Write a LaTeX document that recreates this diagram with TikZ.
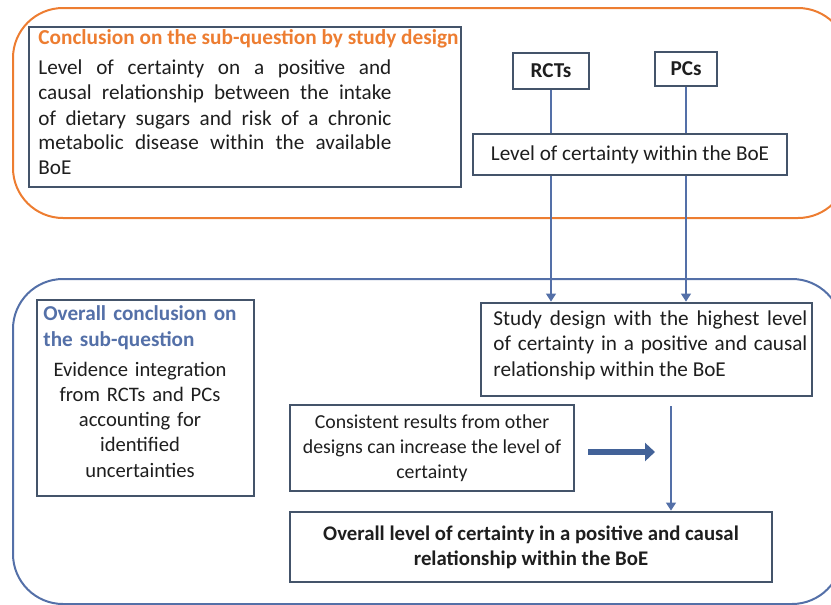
\documentclass[tikz,border=0pt]{standalone}
\usepackage{fontspec}
\setmainfont{Carlito}
\usetikzlibrary{arrows.meta}
\usetikzlibrary{positioning}

\definecolor{boxline}{RGB}{68,84,106}
\definecolor{framebrown}{RGB}{237,125,49}
\definecolor{frameblue}{RGB}{84,112,168}
\definecolor{fatblue}{RGB}{66,98,152}
\definecolor{txt}{RGB}{30,30,30}

\tikzset{
  box/.style={draw=boxline, line width=1.4pt, rectangle, inner sep=0pt, text=txt, align=center,
    font=\fontsize{10.6}{12.5}\selectfont},
  words/.style={inner sep=0pt, text=txt, font=\fontsize{10.6}{12.5}\selectfont},
  link/.style={draw=frameblue, line width=0.6pt, -{Triangle[width=5pt,length=4pt]}},
  plainlink/.style={draw=frameblue, line width=0.6pt},
  fatlink/.style={draw=fatblue, line width=3.4pt, -{Triangle[width=9pt,length=5pt]}},
}

\begin{document}
\begin{tikzpicture}[x=0.5pt,y=-0.5pt]
  \useasboundingbox (0,0) rectangle (831,605);
  \clip (0,0) rectangle (831,605);

  % Frames
  \draw[framebrown, line width=1pt, rounded corners=25pt] (13,8) rectangle (848,218);
  \draw[frameblue, line width=1pt, rounded corners=25pt] (13,279) rectangle (842,604);

  % Conclusion by study design
  \node[box, minimum width=216pt, minimum height=80pt] (design) at (245,107) {};
  \node[words, anchor=base west, text=framebrown, font=\fontsize{10.65}{12.5}\selectfont\bfseries] (designtitle) at (38,44) {Conclusion on the sub-question by study design};
  \node[words, anchor=base west, text width=176.5pt, align=justify] (designtext) at (38,75)
    {Level of certainty on a positive and\linebreak causal relationship between the intake\linebreak of dietary sugars and risk of a chronic\linebreak metabolic disease within the available\linebreak BoE};

  \node[box, minimum width=38pt, minimum height=18pt, font=\fontsize{10.6}{12.5}\selectfont\bfseries] (rcts) at (551,71) {RCTs};
  \node[box, minimum width=31pt, minimum height=17pt, font=\fontsize{10.6}{12.5}\selectfont\bfseries] (pcs) at (686,69) {PCs};
  \node[box, minimum width=157pt, minimum height=20.5pt] (level) at (630,154.5) {Level of certainty within the BoE};

  % Overall conclusion
  \node[box, minimum width=108.5pt, minimum height=98pt] (overall) at (145.5,398) {};
  \node[words, anchor=base west, text width=104pt, align=left, text=frameblue, font=\fontsize{10.6}{13}\selectfont\bfseries] (overalltitle) at (43,320) {Overall conclusion on\\the sub-question};
  \node[words, anchor=base, text width=104pt, align=center, font=\fontsize{10.3}{12.65}\selectfont] (overalltext) at (140,376) {Evidence integration\\from RCTs and PCs\\accounting for\\identified\\uncertainties};

  \node[box, minimum width=165.5pt, minimum height=46.5pt] (study) at (646.5,349.5) {};
  \node[words, anchor=base west, text width=157pt, align=justify, font=\fontsize{10.6}{12.75}\selectfont] (studytext) at (493,325)
    {Study design with the highest level\linebreak of certainty in a positive and causal\linebreak relationship within the BoE};

  \node[box, minimum width=142pt, minimum height=43pt, font=\fontsize{9.9}{12.5}\selectfont] (cons) at (432,448) {Consistent results from other\\designs can increase the level of\\certainty};
  \node[box, minimum width=241pt, minimum height=35pt, font=\fontsize{10.4}{12.5}\selectfont\bfseries] (final) at (531,547) {Overall level of certainty in a positive and causal\\relationship within the BoE};

  \coordinate (fattip) at (655,452);
  \coordinate (vx) at (671,0);

  % Connect the nodes
  \draw[plainlink] (rcts.south) -- (rcts.south |- level.north);
  \draw[plainlink] (pcs.south) -- (pcs.south |- level.north);
  \draw[link] (rcts.south |- level.south) -- (rcts.south |- study.north);
  \draw[link] (pcs.south |- level.south) -- (pcs.south |- study.north);
  \draw[link, shorten <=4.5pt] (vx |- study.south) -- (vx |- final.north);
  \draw[fatlink, shorten <=6.5pt] (cons.east |- fattip) -- (fattip);

\end{tikzpicture}
\end{document}
